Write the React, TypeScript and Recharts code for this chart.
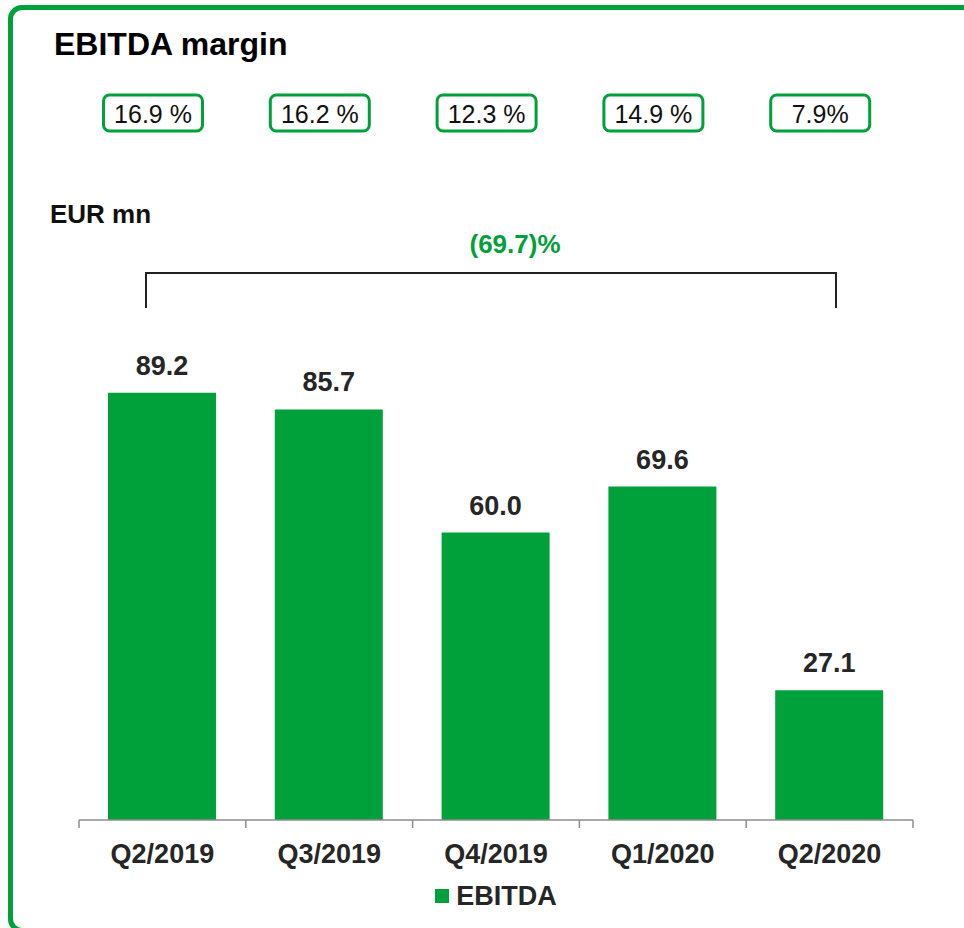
import React from "react";
import { BarChart, Bar, XAxis, YAxis, Legend, LabelList } from "recharts";

const quarters = ["Q2/2019", "Q3/2019", "Q4/2019", "Q1/2020", "Q2/2020"];
const ebitda = [89.2, 85.7, 60.0, 69.6, 27.1];
const marginLabels = ["16.9 %", "16.2 %", "12.3 %", "14.9 %", "7.9%"];
const changeLabel = "(69.7)%";

const GREEN = "#00A13A";
const DARK = "#262626";
const FONT = "'Liberation Sans', Arial, sans-serif";

const data = quarters.map((q, i) => ({ quarter: q, ebitda: ebitda[i], margin: marginLabels[i] }));

// tick label plus a small tick mark on the left edge of each category (and right edge for the last one)
function QuarterTick(props: any) {
  const { x, y, payload, index } = props;
  const half = payload && payload.offset ? payload.offset : 83.4;
  const last = index === quarters.length - 1;
  return (
    <g>
      <line x1={x - half} x2={x - half} y1={y - 8} y2={y} stroke="#8c8c8c" strokeWidth={1.5} />
      {last && <line x1={x + half} x2={x + half} y1={y - 8} y2={y} stroke="#8c8c8c" strokeWidth={1.5} />}
      <text x={x} y={y + 35} textAnchor="middle" fontSize={27} fontWeight="bold" fill={DARK} fontFamily={FONT}>
        {payload.value}
      </text>
    </g>
  );
}

// margin boxes at the top, one per bar
function MarginBox(props: any) {
  const { x, width, value } = props;
  const cx = x + width / 2 - 9;
  return (
    <g>
      <rect x={cx - 49.5} y={95} width={99} height={36} rx={6} ry={6} fill="#fff" stroke={GREEN} strokeWidth={3} />
      <text x={cx} y={123} textAnchor="middle" fontSize={25} fill="#111" fontFamily={FONT}>
        {value}
      </text>
    </g>
  );
}

function LegendContent() {
  return (
    <div style={{ display: "flex", alignItems: "center", justifyContent: "center", height: 40, fontFamily: FONT }}>
      <span style={{ width: 14, height: 14, background: GREEN, display: "inline-block", marginRight: 7 }} />
      <span style={{ fontSize: 27, fontWeight: "bold", color: DARK, lineHeight: "40px" }}>EBITDA</span>
    </div>
  );
}

export default function App() {
  return (
    <div style={{ position: "absolute", left: 0, top: 0, width: 964, height: 928, overflow: "hidden", background: "#fff" }}>
      <div
        style={{
          position: "absolute",
          left: 8,
          top: 5,
          width: 1000,
          height: 928,
          border: `5px solid ${GREEN}`,
          borderRadius: 14,
          boxSizing: "border-box",
        }}
      />
      <BarChart
        width={964}
        height={928}
        data={data}
        margin={{ top: 341, right: 51, left: 79, bottom: 8 }}
        style={{ position: "absolute", left: 0, top: 0 }}
      >
        <XAxis
          dataKey="quarter"
          stroke="#8c8c8c"
          strokeWidth={1.5}
          tickLine={false}
          tickSize={8}
          tickMargin={0}
          height={60}
          interval={0}
          tick={<QuarterTick />}
        />
        <YAxis hide domain={[0, 100]} />
        <Legend
          verticalAlign="bottom"
          content={<LegendContent />}
          wrapperStyle={{ bottom: 12 }}
        />
        <Bar dataKey="ebitda" name="EBITDA" fill={GREEN} barSize={108} isAnimationActive={false}>
          <LabelList
            dataKey="ebitda"
            position="top"
            offset={18}
            formatter={(v: any) => Number(v).toFixed(1)}
            style={{ fontSize: 27, fontWeight: "bold", fill: DARK, fontFamily: FONT }}
          />
          <LabelList dataKey="margin" content={<MarginBox />} />
        </Bar>
      </BarChart>
      <svg width={964} height={928} style={{ position: "absolute", left: 0, top: 0, pointerEvents: "none" }}>
        <text x={54} y={55} fontSize={32} fontWeight="bold" fill="#000" fontFamily={FONT}>
          EBITDA margin
        </text>
        <text x={50} y={223} fontSize={26} fontWeight="bold" fill="#111" fontFamily={FONT}>
          EUR mn
        </text>
        <text x={515} y={253} textAnchor="middle" fontSize={26} fontWeight="bold" fill={GREEN} fontFamily={FONT}>
          {changeLabel}
        </text>
        <polyline points="146,308 146,273 836,273 836,308" fill="none" stroke="#222" strokeWidth={2} />
      </svg>
    </div>
  );
}
